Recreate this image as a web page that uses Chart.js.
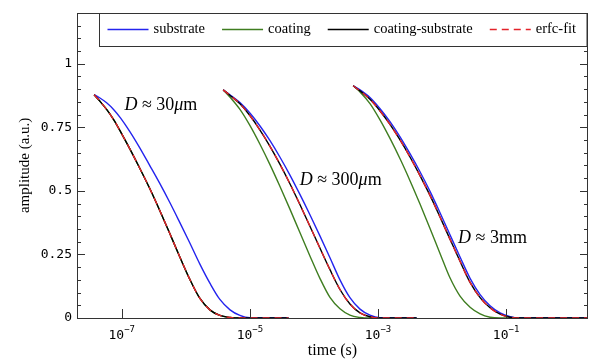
<!DOCTYPE html>
<html>
<head>
<meta charset="utf-8">
<script src="https://cdn.jsdelivr.net/npm/chart.js@4.4.0/dist/chart.umd.min.js"></script>
<style>
html, body { margin: 0; padding: 0; background: #fff; }
</style>
</head>
<body>
<canvas id="chart" width="593" height="361"></canvas>
<script>
// tijden (s) per groep
var time30um = [3.7e-8, 4.5e-8, 5.8e-8, 7.5e-8, 9.6e-8, 1.33e-7, 1.9e-7, 2.7e-7, 3.9e-7, 5.6e-7, 8e-7, 1.15e-6, 1.65e-6, 2.4e-6, 3.4e-6, 4.9e-6, 7e-6, 1e-5, 4e-5];
var time300um = [3.83e-6, 4.87e-6, 7e-6, 1e-5, 1.43e-5, 2.05e-5, 2.94e-5, 4.22e-5, 6.04e-5, 8.66e-5, 1.24e-4, 1.78e-4, 2.55e-4, 3.65e-4, 5.24e-4, 7.5e-4, 1.07e-3, 4e-3];
var time3mm = [4.1e-4, 5.24e-4, 7.5e-4, 1.07e-3, 1.54e-3, 2.21e-3, 3.16e-3, 4.53e-3, 6.49e-3, 9.3e-3, 1.33e-2, 1.91e-2, 2.74e-2, 3.93e-2, 5.62e-2, 8.06e-2, 0.1155, 0.16, 1.9];

// amplitudes
var substrate30um = [0.878, 0.866, 0.846, 0.819, 0.786, 0.734, 0.670, 0.602, 0.530, 0.455, 0.377, 0.296, 0.213, 0.135, 0.073, 0.032, 0.010, 0.001, 0];
var coating30um = [0.878, 0.854, 0.820, 0.779, 0.732, 0.666, 0.590, 0.512, 0.424, 0.333, 0.242, 0.153, 0.078, 0.031, 0.010, 0.002, 0, 0, 0];
var coatSub30um = [0.878, 0.854, 0.820, 0.779, 0.732, 0.666, 0.590, 0.512, 0.424, 0.333, 0.242, 0.153, 0.078, 0.031, 0.010, 0.002, 0, 0, 0];
var fit30um = [0.878, 0.854, 0.820, 0.779, 0.732, 0.666, 0.590, 0.512, 0.424, 0.333, 0.242, 0.153, 0.078, 0.031, 0.010, 0.002, 0, 0, 0];

var substrate300um = [0.897, 0.878, 0.847, 0.806, 0.756, 0.698, 0.633, 0.562, 0.486, 0.406, 0.323, 0.237, 0.150, 0.080, 0.035, 0.011, 0.001, 0];
var coating300um = [0.897, 0.869, 0.820, 0.757, 0.684, 0.604, 0.518, 0.428, 0.336, 0.244, 0.156, 0.081, 0.036, 0.011, 0.002, 0, 0, 0];
var coatSub300um = [0.897, 0.876, 0.842, 0.796, 0.740, 0.676, 0.605, 0.528, 0.446, 0.361, 0.275, 0.190, 0.112, 0.055, 0.020, 0.005, 0, 0];
var fit300um = [0.897, 0.876, 0.842, 0.796, 0.740, 0.676, 0.605, 0.528, 0.446, 0.361, 0.275, 0.190, 0.112, 0.055, 0.020, 0.005, 0, 0];

var substrate3mm = [0.913, 0.897, 0.867, 0.824, 0.772, 0.712, 0.646, 0.575, 0.498, 0.414, 0.327, 0.240, 0.156, 0.092, 0.048, 0.020, 0.005, 0, 0];
var coating3mm = [0.913, 0.889, 0.843, 0.780, 0.706, 0.626, 0.540, 0.448, 0.352, 0.254, 0.158, 0.086, 0.042, 0.016, 0.003, 0, 0, 0, 0];
var coatSub3mm = [0.913, 0.893, 0.860, 0.815, 0.761, 0.700, 0.633, 0.560, 0.482, 0.397, 0.310, 0.223, 0.140, 0.080, 0.040, 0.015, 0.003, 0, 0];
var fit3mm = [0.913, 0.893, 0.860, 0.815, 0.761, 0.700, 0.633, 0.560, 0.482, 0.397, 0.310, 0.223, 0.140, 0.080, 0.040, 0.015, 0.003, 0, 0];

var seriesNames = ["substrate", "coating", "coating-substrate", "erfc-fit"];

// ticks
var xTickValues = [1e-7, 1e-5, 1e-3, 1e-1];
var xTickExponents = ["\u22127", "\u22125", "\u22123", "\u22121"];
var yTickValues = [0, 0.25, 0.5, 0.75, 1];
var yTickLabels = ["0", "0.25", "0.5", "0.75", "1"];

// labels in de grafiek: [tekst-stukken, tijd, amplitude]
var labelD30 = [[["D", true], [" \u2248 30", false], ["\u03BC", true], ["m", false]], 1.1e-7, 0.836];
var labelD300 = [[["D", true], [" \u2248 300", false], ["\u03BC", true], ["m", false]], 6.0e-5, 0.543];
var labelD3 = [[["D", true], [" \u2248 3mm", false]], 0.0178, 0.3125];

// punten van de drie groepen achter elkaar, met een gat ertussen
function makePoints(groups) {
    var pts = [];
    for (var g = 0; g < groups.length; g++) {
        var times = groups[g][0];
        var vals = groups[g][1];
        for (var i = 0; i < times.length; i++) {
            pts.push({ x: times[i], y: vals[i] });
        }
        if (g < groups.length - 1) {
            pts.push({ x: times[times.length - 1], y: null });
        }
    }
    return pts;
}

var serifFont = "'Liberation Serif', 'DejaVu Serif', serif";
var monoFont = "'DejaVu Sans Mono', monospace";

var framePlugin = {
    id: "frame",
    afterDatasetsDraw: function (chart) {
        var ctx = chart.ctx;
        var a = chart.chartArea;
        var xs = chart.scales.x;
        var ys = chart.scales.y;
        ctx.save();
        ctx.strokeStyle = "#333";
        ctx.lineWidth = 1;
        // ticks naar binnen
        ctx.beginPath();
        ys.ticks.forEach(function (t) {
            var y = Math.round(ys.getPixelForValue(t.value)) + 0.5;
            var len = yTickValues.indexOf(Math.round(t.value * 100) / 100) >= 0 ? 8 : 4;
            ctx.moveTo(a.left, y);
            ctx.lineTo(a.left + len, y);
            ctx.moveTo(a.right, y);
            ctx.lineTo(a.right - len, y);
        });
        xTickValues.forEach(function (v) {
            var x = Math.round(xs.getPixelForValue(v)) + 0.5;
            ctx.moveTo(x, a.bottom);
            ctx.lineTo(x, a.bottom - 9);
        });
        ctx.stroke();
        ctx.strokeRect(Math.round(a.left) + 0.5, Math.round(a.top) + 0.5, Math.round(a.right - a.left) - 1, Math.round(a.bottom - a.top));

        // x tick labels: 10 met exponent
        ctx.fillStyle = "#000";
        ctx.textBaseline = "alphabetic";
        xTickValues.forEach(function (v, i) {
            var x = xs.getPixelForValue(v);
            ctx.font = "13px " + monoFont;
            var wBase = ctx.measureText("10").width;
            ctx.font = "9px " + monoFont;
            var wExp = ctx.measureText(xTickExponents[i]).width;
            var x0 = x - (wBase + wExp) / 2;
            ctx.font = "13px " + monoFont;
            ctx.fillText("10", x0, a.bottom + 21);
            ctx.font = "9px " + monoFont;
            ctx.fillText(xTickExponents[i], x0 + wBase, a.bottom + 14);
        });
        ctx.restore();
    },
    afterDraw: function (chart) {
        var ctx = chart.ctx;
        var a = chart.chartArea;
        var xs = chart.scales.x;
        var ys = chart.scales.y;
        ctx.save();
        // legenda
        var boxLeft = 99.5, boxTop = Math.round(a.top) + 0.5, boxH = 33;
        ctx.fillStyle = "#fff";
        ctx.fillRect(boxLeft, boxTop, a.right - 1 - boxLeft, boxH);
        ctx.strokeStyle = "#333";
        ctx.lineWidth = 1;
        ctx.strokeRect(boxLeft, boxTop, a.right - 1 - boxLeft, boxH);
        ctx.font = "14.5px " + serifFont;
        ctx.textBaseline = "middle";
        ctx.fillStyle = "#000";
        var x = boxLeft + 8;
        var yMid = boxTop + 16;
        chart.data.datasets.forEach(function (ds) {
            ctx.beginPath();
            ctx.strokeStyle = ds.borderColor;
            ctx.lineWidth = ds.borderWidth;
            ctx.setLineDash(ds.borderDash || []);
            ctx.moveTo(x, yMid);
            ctx.lineTo(x + 41, yMid);
            ctx.stroke();
            ctx.setLineDash([]);
            ctx.fillText(ds.label, x + 46, yMid);
            x += 46 + ctx.measureText(ds.label).width + 17;
        });
        // D-labels
        [labelD30, labelD300, labelD3].forEach(function (lab) {
            var px = xs.getPixelForValue(lab[1]);
            var py = ys.getPixelForValue(lab[2]);
            lab[0].forEach(function (part) {
                ctx.font = (part[1] ? "italic " : "") + "18px " + serifFont;
                ctx.fillText(part[0], px, py);
                px += ctx.measureText(part[0]).width;
            });
        });
        ctx.restore();
    }
};

var ctx = document.getElementById("chart").getContext("2d");
var chart = new Chart(ctx, {
    type: "line",
    data: {
        datasets: [
            {
                label: seriesNames[0],
                data: makePoints([[time30um, substrate30um], [time300um, substrate300um], [time3mm, substrate3mm]]),
                borderColor: "#2424ee",
                borderWidth: 1.4,
                order: 3
            },
            {
                label: seriesNames[1],
                data: makePoints([[time30um, coating30um], [time300um, coating300um], [time3mm, coating3mm]]),
                borderColor: "#3f7d20",
                borderWidth: 1.4,
                order: 4
            },
            {
                label: seriesNames[2],
                data: makePoints([[time30um, coatSub30um], [time300um, coatSub300um], [time3mm, coatSub3mm]]),
                borderColor: "#000000",
                borderWidth: 1.4,
                order: 2
            },
            {
                label: seriesNames[3],
                data: makePoints([[time30um, fit30um], [time300um, fit300um], [time3mm, fit3mm]]),
                borderColor: "#e3232a",
                borderWidth: 1.4,
                borderDash: [7, 5],
                order: 1
            }
        ]
    },
    options: {
        responsive: false,
        animation: false,
        layout: { padding: { top: 11, right: 5, left: 0, bottom: 0 } },
        elements: {
            point: { radius: 0 },
            line: { cubicInterpolationMode: "monotone", fill: false }
        },
        plugins: {
            legend: { display: false },
            tooltip: { enabled: false }
        },
        scales: {
            x: {
                type: "logarithmic",
                min: 2e-8,
                max: 1.9,
                grid: { display: false, drawTicks: false },
                border: { display: false },
                afterBuildTicks: function (s) {
                    s.ticks = xTickValues.map(function (v) { return { value: v }; });
                },
                ticks: { display: false },
                title: {
                    display: true,
                    text: "time (s)",
                    color: "#000",
                    font: { family: serifFont, size: 16 },
                    padding: { top: 0, bottom: 1 }
                },
                afterFit: function (s) { s.height = 43; }
            },
            y: {
                min: 0,
                max: 1.2,
                grid: { display: false, drawTicks: false },
                border: { display: false },
                afterBuildTicks: function (s) {
                    var t = [];
                    for (var i = 0; i <= 24; i++) t.push({ value: i * 0.05 });
                    s.ticks = t;
                },
                ticks: {
                    autoSkip: false,
                    padding: 5,
                    color: "#000",
                    font: { family: monoFont, size: 13 },
                    callback: function (v) {
                        var i = yTickValues.indexOf(Math.round(v * 100) / 100);
                        return i >= 0 ? yTickLabels[i] : "";
                    }
                },
                title: {
                    display: true,
                    text: "amplitude (a.u.)",
                    color: "#000",
                    font: { family: serifFont, size: 15 },
                    padding: { top: 16, bottom: 0 }
                },
                afterFit: function (s) { s.width = 77; }
            }
        }
    },
    plugins: [framePlugin]
});
</script>
</body>
</html>
